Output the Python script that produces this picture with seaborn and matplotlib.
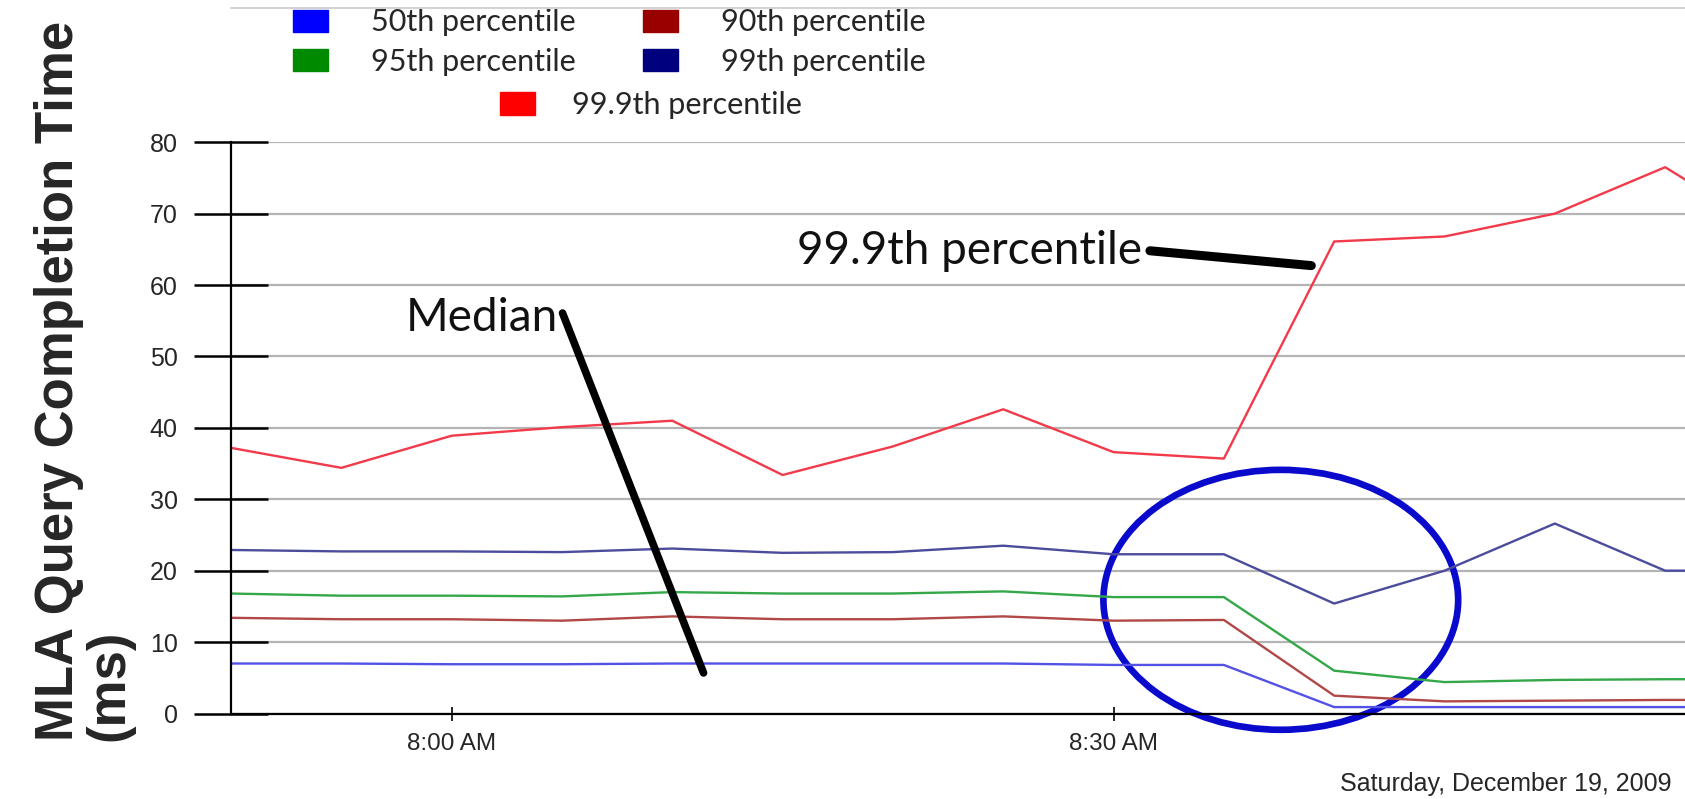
import pandas as pd
import matplotlib
matplotlib.use("Agg")
import matplotlib.pyplot as plt
import matplotlib.dates as mdates
from matplotlib.patches import Ellipse, Patch
from matplotlib.lines import Line2D
from matplotlib import font_manager
import seaborn as sns

# query completion time percentiles, one sample every 5 minutes
times = ["07:50", "07:55", "08:00", "08:05", "08:10", "08:15", "08:20", "08:25",
         "08:30", "08:35", "08:40", "08:45", "08:50", "08:55", "09:00"]
p50 = [7.0, 7.0, 6.9, 6.9, 7.0, 7.0, 7.0, 7.0, 6.8, 6.8, 0.9, 0.9, 0.9, 0.9, 0.9]
p90 = [13.4, 13.2, 13.2, 13.0, 13.6, 13.2, 13.2, 13.6, 13.0, 13.1, 2.5, 1.7, 1.8, 1.9, 1.9]
p95 = [16.8, 16.5, 16.5, 16.4, 17.0, 16.8, 16.8, 17.1, 16.3, 16.3, 6.0, 4.4, 4.7, 4.8, 4.8]
p99 = [22.9, 22.7, 22.7, 22.6, 23.1, 22.5, 22.6, 23.5, 22.3, 22.3, 15.4, 20.0, 26.6, 20.0, 20.0]
p999 = [37.2, 34.4, 38.9, 40.1, 41.0, 33.4, 37.4, 42.6, 36.6, 35.7, 66.1, 66.8, 70.0, 76.5, 67.0]

series_names = ["50th percentile", "90th percentile", "95th percentile",
                "99th percentile", "99.9th percentile"]
legend_colors = ["#0000ff", "#990000", "#008a00", "#00007f", "#ff0000"]
line_colors = ["#5252e6", "#b04848", "#34a848", "#4c4c9c", "#f23a4a"]

day = "2009-12-19 "

rows = []
for name, vals in zip(series_names, [p50, p90, p95, p99, p999]):
    for t, v in zip(times, vals):
        rows.append({"time": pd.Timestamp(day + t), "ms": v, "series": name})
df = pd.DataFrame(rows)

sns.set_theme(style="white")
installed = {f.name for f in font_manager.fontManager.ttflist}
narrow = "Liberation Sans Narrow" if "Liberation Sans Narrow" in installed else "Liberation Sans"
plt.rcParams["font.family"] = ["Lato", "DejaVu Sans"]

fig = plt.figure(figsize=(16.85, 7.99), dpi=100)
ax = fig.add_axes([0.1371, 0.107, 0.8629, 0.715])

sns.lineplot(data=df, x="time", y="ms", hue="series", hue_order=series_names,
             palette=dict(zip(series_names, line_colors)), linewidth=1.7,
             legend=False, ax=ax)

ax.set_ylim(0, 80)
ax.set_yticks(range(0, 81, 10))
t0 = pd.Timestamp(day + times[0])
ax.set_xlim(t0, t0 + pd.Timedelta(minutes=65.9))
ax.xaxis.set_major_locator(mdates.MinuteLocator(byminute=[0, 30]))
ax.xaxis.set_major_formatter(mdates.DateFormatter("%-I:%M %p"))
ax.set_xlabel("")
ax.set_ylabel("")

ax.yaxis.grid(True, color="#b4b4b4", linewidth=1.6)
ax.xaxis.grid(False)
ax.set_axisbelow(True)
for s in ["top", "right"]:
    ax.spines[s].set_visible(False)
for s in ["left", "bottom"]:
    ax.spines[s].set_color("black")
    ax.spines[s].set_linewidth(1.6)

ax.tick_params(axis="y", direction="inout", length=53, width=1.8, pad=12,
               labelsize=18, color="black", left=True)
ax.tick_params(axis="x", direction="inout", length=10, width=1.2, pad=9,
               labelsize=17.5, color="black", bottom=True)
for lbl in ax.get_xticklabels() + ax.get_yticklabels():
    lbl.set_fontfamily(narrow)

# legend: two columns plus a centred last row
handles = [Patch(facecolor=c, edgecolor=c) for c in legend_colors]
leg_kw = dict(frameon=False, prop={"family": "Lato", "size": 22},
              handlelength=1.15, handleheight=0.75,
              borderpad=0, borderaxespad=0, bbox_transform=fig.transFigure,
              loc="upper left")
leg1 = ax.legend([handles[0], handles[2], handles[1], handles[3]],
                 [series_names[0], series_names[2], series_names[1], series_names[3]],
                 ncol=2, columnspacing=2.2, labelspacing=0.36, handletextpad=1.4,
                 bbox_to_anchor=(293 / 1685, 1 - 8.5 / 799), **leg_kw)
ax.add_artist(leg1)
ax.legend([handles[4]], [series_names[4]], handletextpad=1.2,
          bbox_to_anchor=(500 / 1685, 1 - 91 / 799), **leg_kw)

# hand-drawn style annotations
ax.text(0.1205, 0.669, "Median", transform=ax.transAxes, fontsize=33,
        ha="left", va="baseline", color="#111111")
ax.plot([0.228, 0.325], [0.701, 0.071], transform=ax.transAxes, color="black",
        linewidth=5.5, solid_capstyle="round", clip_on=False)
ax.text(0.389, 0.786, "99.9th percentile", transform=ax.transAxes, fontsize=33,
        ha="left", va="baseline", color="#111111")
ax.plot([0.632, 0.743], [0.810, 0.784], transform=ax.transAxes, color="black",
        linewidth=6.5, solid_capstyle="round", clip_on=False)
ax.add_patch(Ellipse((0.722, 0.199), 0.244, 0.455, transform=ax.transAxes,
                     fill=False, edgecolor="#0a0acc", linewidth=4.8, clip_on=False))

fig.add_artist(Line2D([231 / 1685, 1], [1 - 7.5 / 799] * 2, transform=fig.transFigure,
                      color="#d4d4d4", linewidth=1.5))

fig.text(84 / 1685, 1 - 741 / 799, "MLA Query Completion Time\n(ms)", rotation=90,
         ha="center", va="bottom", multialignment="left", fontsize=38,
         fontweight="bold", family=narrow, linespacing=1.0)
fig.text(1671 / 1685, 1 - 791 / 799, "Saturday, December 19, 2009", ha="right",
         va="baseline", fontsize=18, family=narrow)

fig.savefig("out.png", dpi=100)
